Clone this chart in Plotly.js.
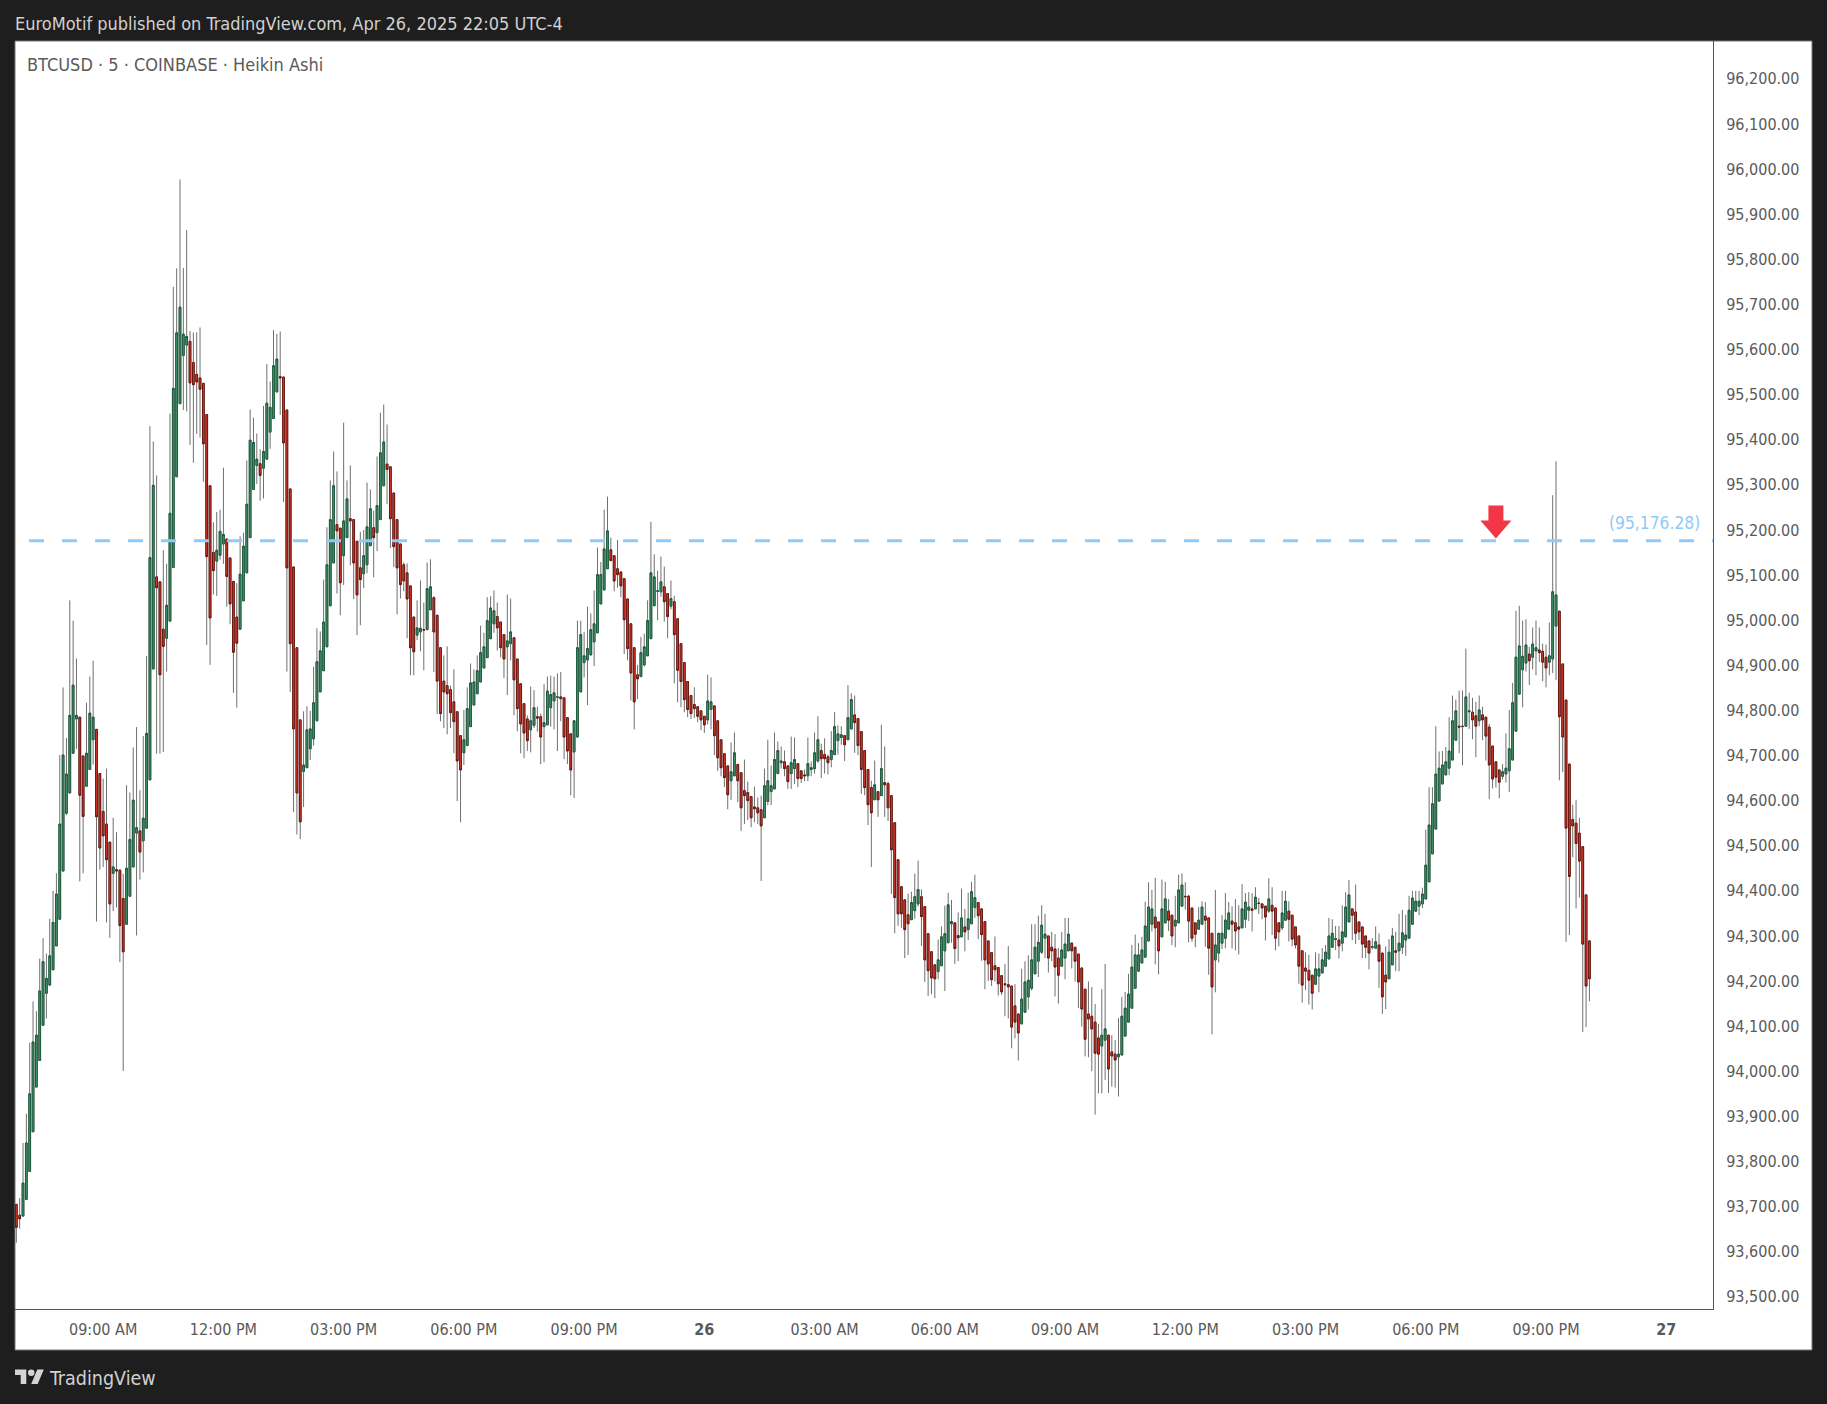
<!DOCTYPE html>
<html>
<head>
<meta charset="utf-8">
<script src="https://cdn.plot.ly/plotly-3.0.1.min.js"></script>
<style>
  html, body { margin: 0; padding: 0; background: #1e1e1e; }
  #chart { width: 1827px; height: 1404px; }
</style>
</head>
<body>
<div id="chart"></div>
<script>
// heikin ashi 5m bars, first bar is 06:50 on Apr 25
const opens = [
93705,93681,93679,93716,93778,93866,93965,94024,94102,94173,
94191,94225,94278,94337,94444,94572,94617,94705,94781,94785,
94699,94632,94669,94735,94758,94660,94576,94548,94508,94439,
94447,94446,94383,94326,94388,94453,94528,94533,94511,94539,
94646,94892,95096,95085,94980,94960,94998,95117,95318,95480,
95587,95610,95618,95571,95545,95537,95525,95456,95298,95150,
95131,95144,95169,95180,95138,95086,95007,94980,95043,95105,
95183,95290,95343,95347,95337,95357,95417,95447,95506,95540,
95539,95466,95291,95118,94939,94779,94665,94673,94715,94737,
94777,94841,94888,94941,95032,95127,95212,95204,95143,95183,
95225,95223,95175,95116,95103,95123,95165,95205,95194,95223,
95298,95346,95340,95282,95223,95169,95123,95105,95076,95007,
94967,94974,94979,94979,95023,95050,95011,94939,94865,94855,
94846,94819,94797,94744,94706,94722,94764,94812,94837,94863,
94894,94917,94959,94992,95008,94996,94968,94941,94948,94961,
94914,94859,94815,94781,94757,94767,94786,94786,94764,94768,
94806,94821,94829,94830,94828,94784,94748,94708,94741,94841,
94906,94912,94923,94952,94972,95036,95067,95114,95156,95143,
95114,95107,95092,95047,94992,94939,94879,94875,94901,94921,
94959,95032,95064,95063,95074,95059,95031,95041,95003,94948,
94906,94864,94833,94813,94808,94799,94787,94779,94802,94810,
94777,94735,94704,94677,94644,94655,94680,94662,94622,94618,
94609,94586,94584,94580,94562,94598,94620,94626,94660,94684,
94686,94677,94660,94671,94682,94666,94657,94655,94669,94671,
94688,94711,94702,94697,94691,94702,94733,94740,94744,94735,
94759,94790,94782,94753,94711,94669,94629,94602,94620,94611,
94640,94638,94611,94551,94469,94409,94380,94347,94336,94356,
94371,94387,94365,94305,94265,94236,94221,94234,94267,94285,
94327,94329,94301,94298,94320,94314,94327,94363,94374,94360,
94332,94289,94263,94234,94230,94212,94194,94192,94189,94145,
94127,94105,94131,94165,94184,94216,94244,94264,94295,94300,
94275,94271,94251,94233,94251,94267,94284,94275,94260,94229,
94182,94127,94122,94109,94074,94056,94069,94080,94043,94038,
94032,94036,94078,94109,94140,94184,94222,94240,94253,94289,
94326,94342,94331,94298,94329,94355,94346,94322,94329,94366,
94388,94388,94362,94329,94315,94326,94344,94340,94306,94247,
94262,94284,94295,94315,94333,94329,94320,94318,94337,94357,
94360,94360,94373,94371,94366,94355,94368,94362,94329,94318,
94335,94355,94346,94320,94300,94267,94229,94224,94213,94193,
94211,94218,94233,94249,94275,94292,94291,94284,94298,94331,
94360,94353,94331,94320,94300,94289,94275,94273,94280,94262,
94213,94205,94236,94267,94267,94275,94291,94295,94326,94355,
94366,94371,94382,94420,94482,94537,94599,94637,94657,94672,
94690,94734,94765,94764,94765,94797,94796,94788,94777,94790,
94785,94763,94721,94686,94668,94654,94659,94666,94690,94754,
94836,94890,94905,94925,94918,94932,94934,94931,94918,94907,
94914,94987,95020,94903,94823,94681,94558,94550,94528,94498,
94391,94289
];
const highs = [
93705,93719,93841,93906,94063,94155,94133,94250,94295,94261,
94338,94400,94439,94701,94851,94739,95044,94999,94915,94785,
94699,94817,94875,94910,94758,94660,94649,94671,94508,94562,
94530,94446,94438,94634,94618,94718,94763,94623,94743,94921,
95430,95396,95321,95085,95155,95125,95458,95739,95780,95977,
95781,95865,95641,95638,95638,95649,95525,95456,95298,95217,
95240,95245,95338,95180,95138,95086,95082,95186,95194,95354,
95467,95449,95414,95379,95475,95568,95529,95643,95635,95640,
95539,95466,95291,95118,94939,94779,94798,94809,94799,94897,
94982,94975,95090,95206,95310,95374,95330,95204,95438,95310,
95343,95223,95175,95196,95200,95305,95290,95243,95363,95460,
95478,95434,95340,95282,95223,95169,95128,95126,95076,95007,
95044,95088,95039,95128,95135,95053,95011,94939,94922,94942,
94855,94891,94797,94744,94801,94851,94904,94891,94922,94988,
94972,95051,95053,95066,95039,94996,94968,95057,95048,94961,
94914,94859,94815,94789,94853,94845,94808,94793,94858,94875,
94877,94875,94882,94885,94828,94784,94748,94777,94999,94999,
94974,95030,95015,95066,95161,95129,95245,95274,95183,95143,
95178,95107,95092,95047,94992,94939,94901,94963,94970,95044,
95218,95146,95110,95141,95119,95059,95088,95054,95003,94948,
94906,94864,94833,94851,94808,94799,94787,94879,94873,94810,
94777,94735,94704,94677,94729,94751,94682,94662,94691,94642,
94609,94631,94607,94611,94671,94735,94678,94751,94731,94720,
94711,94677,94742,94740,94682,94666,94669,94740,94687,94751,
94787,94726,94738,94702,94754,94796,94767,94765,94744,94856,
94838,94833,94782,94753,94711,94669,94644,94689,94620,94768,
94720,94642,94611,94551,94469,94411,94380,94394,94398,94438,
94467,94403,94365,94305,94265,94236,94292,94321,94367,94396,
94380,94329,94352,94405,94360,94396,94420,94436,94374,94360,
94332,94289,94263,94299,94230,94212,94238,94278,94189,94193,
94127,94227,94244,94257,94326,94326,94345,94368,94349,94300,
94309,94304,94273,94309,94340,94340,94286,94275,94260,94229,
94182,94199,94187,94149,94105,94182,94238,94080,94080,94069,
94118,94165,94176,94216,94280,94303,94284,94298,94376,94419,
94402,94429,94331,94425,94420,94382,94346,94389,94436,94439,
94419,94391,94362,94329,94364,94377,94375,94340,94306,94402,
94306,94346,94395,94375,94366,94382,94368,94415,94395,94397,
94395,94408,94384,94373,94366,94428,94408,94362,94331,94400,
94400,94377,94346,94320,94300,94267,94264,94258,94213,94264,
94261,94273,94280,94340,94337,94322,94322,94368,94397,94424,
94360,94414,94331,94320,94300,94289,94295,94321,94306,94262,
94277,94293,94318,94309,94349,94358,94347,94389,94400,94400,
94400,94407,94536,94630,94630,94765,94709,94710,94719,94785,
94833,94824,94844,94844,94937,94839,94828,94819,94833,94808,
94785,94770,94721,94686,94668,94681,94749,94801,94861,95021,
95032,94999,95002,94941,94984,94999,94984,94948,94946,94995,
95277,95352,95020,94903,94823,94681,94591,94602,94562,94498,
94391,94289
];
const lows = [
93620,93651,93679,93716,93778,93866,93965,94024,94102,94117,
94191,94225,94278,94337,94444,94568,94617,94705,94715,94421,
94439,94632,94669,94680,94332,94447,94453,94330,94296,94355,
94363,94242,94001,94326,94388,94453,94301,94425,94441,94539,
94646,94892,94704,94704,94708,94886,94998,95117,95318,95480,
95466,95463,95389,95349,95413,95405,95307,94945,94901,95057,
95054,95134,95125,95030,94991,94839,94806,94980,95043,95105,
95183,95290,95302,95265,95270,95357,95380,95447,95506,95455,
95262,94886,94841,94575,94525,94515,94586,94673,94690,94722,
94777,94841,94888,94941,95032,95127,95059,95011,95078,95183,
95122,95047,94967,94989,95071,95104,95165,95095,95153,95223,
95298,95257,95160,95118,95013,95048,95064,94960,94878,94878,
94956,94931,94889,94979,95023,94885,94792,94776,94761,94747,
94761,94705,94599,94552,94679,94722,94764,94812,94837,94863,
94894,94917,94959,94972,94933,94918,94872,94834,94911,94789,
94754,94705,94694,94710,94707,94761,94753,94681,94685,94768,
94764,94758,94710,94776,94692,94681,94612,94606,94741,94841,
94873,94812,94923,94898,94972,95036,95067,95114,95132,95064,
95072,95051,94925,94911,94822,94758,94825,94875,94897,94921,
94959,95032,95000,95052,94997,94960,95024,94860,94818,94807,
94796,94785,94781,94783,94774,94756,94750,94769,94758,94701,
94666,94654,94630,94581,94601,94655,94597,94533,94548,94557,
94541,94552,94548,94422,94562,94590,94590,94626,94660,94671,
94654,94626,94626,94637,94630,94639,94643,94643,94654,94660,
94684,94650,94660,94658,94674,94702,94702,94724,94688,94735,
94759,94706,94701,94615,94612,94546,94453,94602,94564,94611,
94564,94555,94393,94306,94322,94318,94251,94258,94336,94338,
94365,94278,94198,94167,94171,94162,94204,94234,94178,94285,
94285,94238,94244,94298,94266,94291,94327,94340,94293,94245,
94182,94200,94189,94199,94168,94169,94122,94117,94051,94073,
94024,94105,94131,94137,94179,94216,94209,94260,94251,94219,
94244,94166,94150,94233,94204,94267,94228,94199,94140,94099,
94033,94031,94000,93904,93951,93951,93981,93952,93966,93964,
93944,94036,94078,94109,94140,94184,94222,94240,94253,94289,
94310,94237,94215,94298,94329,94311,94280,94275,94329,94366,
94358,94286,94287,94275,94315,94326,94276,94214,94082,94175,
94241,94271,94273,94315,94272,94268,94259,94318,94318,94333,
94310,94360,94349,94337,94290,94351,94302,94268,94277,94313,
94335,94288,94277,94272,94194,94152,94180,94148,94137,94193,
94175,94218,94233,94249,94275,94269,94250,94266,94298,94331,
94291,94282,94291,94251,94251,94226,94270,94273,94185,94127,
94138,94205,94236,94222,94222,94260,94256,94295,94326,94355,
94346,94362,94382,94420,94482,94537,94599,94637,94657,94657,
94690,94734,94705,94678,94765,94759,94736,94696,94765,94734,
94689,94603,94627,94629,94605,94647,94640,94619,94690,94754,
94836,94807,94886,94856,94891,94878,94907,94865,94851,94878,
94883,94867,94645,94663,94287,94302,94475,94361,94385,94087,
94098,94155
];
const closes = [
93654,93673,93752,93841,93950,94065,94080,94178,94243,94206,
94256,94330,94393,94548,94701,94659,94789,94856,94789,94612,
94565,94705,94794,94785,94564,94495,94522,94469,94371,94453,
94444,94323,94265,94450,94514,94601,94540,94486,94561,94749,
95139,95299,95072,94879,94942,95033,95237,95514,95637,95694,
95634,95629,95526,95522,95528,95512,95391,95141,95005,95110,
95155,95197,95190,95097,95036,94929,94949,95102,95164,95257,
95399,95394,95357,95321,95374,95481,95472,95564,95579,95537,
95393,95116,94948,94759,94617,94553,94679,94757,94759,94817,
94908,94932,94996,95123,95223,95298,95198,95083,95220,95269,
95220,95127,95056,95090,95143,95207,95247,95183,95254,95371,
95395,95334,95225,95163,95116,95079,95087,95047,94939,94930,
94983,94982,94978,95070,95074,94974,94865,94793,94841,94837,
94795,94775,94688,94668,94735,94804,94861,94863,94888,94928,
94941,94999,95027,95021,94983,94939,94914,94954,94974,94868,
94804,94770,94750,94733,94777,94806,94783,94741,94773,94843,
94835,94839,94830,94826,94741,94710,94668,94777,94939,94968,
94921,94937,94979,94992,95101,95101,95158,95198,95132,95087,
95101,95076,95001,94937,94883,94819,94870,94928,94941,94999,
95105,95096,95065,95085,95041,95008,95048,94968,94889,94864,
94824,94802,94793,94804,94787,94779,94768,94821,94819,94744,
94695,94673,94651,94613,94664,94706,94644,94584,94611,94600,
94562,94582,94573,94544,94633,94644,94633,94691,94711,94688,
94671,94642,94684,94691,94649,94649,94655,94682,94673,94706,
94735,94693,94693,94684,94711,94764,94748,94746,94724,94784,
94824,94773,94722,94669,94629,94591,94573,94635,94602,94671,
94635,94584,94491,94385,94349,94349,94314,94327,94374,94387,
94403,94343,94247,94223,94207,94205,94247,94298,94305,94369,
94332,94272,94296,94340,94309,94338,94398,94385,94345,94303,
94247,94238,94203,94225,94194,94176,94192,94187,94098,94109,
94085,94160,94198,94202,94247,94275,94286,94324,94304,94251,
94267,94231,94213,94269,94282,94304,94267,94244,94198,94138,
94071,94116,94094,94040,94038,94080,94094,94005,94034,94025,
94038,94122,94140,94171,94231,94258,94258,94269,94322,94364,
94360,94318,94267,94360,94382,94335,94300,94335,94402,94413,
94387,94333,94295,94304,94335,94364,94335,94273,94187,94280,
94306,94306,94335,94351,94326,94311,94315,94360,94375,94364,
94357,94386,94372,94362,94342,94382,94355,94295,94309,94351,
94377,94337,94293,94280,94233,94191,94222,94202,94173,94227,
94227,94247,94264,94300,94306,94294,94278,94309,94364,94391,
94346,94306,94309,94282,94275,94262,94276,94287,94244,94165,
94198,94264,94300,94264,94284,94307,94302,94357,94384,94377,
94377,94393,94457,94546,94593,94659,94672,94679,94686,94710,
94777,94799,94763,94765,94830,94799,94779,94765,94801,94779,
94743,94679,94648,94652,94641,94664,94672,94715,94817,94918,
94943,94920,94945,94910,94947,94939,94928,94907,94894,94921,
95063,95056,94786,94741,94539,94432,94544,94505,94466,94282,
94189,94205
];
const tickTimes = [
  '2025-04-25 09:00', '2025-04-25 12:00', '2025-04-25 15:00', '2025-04-25 18:00', '2025-04-25 21:00',
  '2025-04-26 00:00', '2025-04-26 03:00', '2025-04-26 06:00', '2025-04-26 09:00', '2025-04-26 12:00',
  '2025-04-26 15:00', '2025-04-26 18:00', '2025-04-26 21:00', '2025-04-27 00:00'
];
const tickLabels = [
  '09:00 AM', '12:00 PM', '03:00 PM', '06:00 PM', '09:00 PM',
  '<b>26</b>', '03:00 AM', '06:00 AM', '09:00 AM', '12:00 PM',
  '03:00 PM', '06:00 PM', '09:00 PM', '<b>27</b>'
];
const levelPrice = 95176.28;
const levelText = '(95,176.28)';
const arrowBar = 443;
const arrowPrice = 95181;

const FONT = '"DejaVu Sans Condensed", "DejaVu Sans", sans-serif';
const W = 1827, H = 1404;
const plot = { l: 15, r: 1713, t: 41, b: 1309 };
const textColor = '#5a5a5a';

const firstBar = Date.UTC(2025, 3, 25, 6, 50);
const barTime = (i) => new Date(firstBar + i * 300000).toISOString().slice(0, 19).replace('T', ' ');
const times = opens.map((_, i) => barTime(i));

// page px -> paper fraction, for the frame and the text around the plot
const paperX = (px) => (px - plot.l) / (plot.r - plot.l);
const paperY = (py) => (plot.b - py) / (plot.b - plot.t);

const wickColor = '#6f6f6f';
const flat = (c) => ({ line: { color: c, width: 1 }, fillcolor: c });

const traces = [
  {
    type: 'scatter',
    mode: 'lines',
    x: [barTime(3.8), barTime(508)],
    y: [levelPrice, levelPrice],
    line: { color: '#90caf9', width: 3, dash: '15px,18px' },
    hoverinfo: 'skip',
  },
  // wicks first, the bodies get their own trace so the outline can differ from the wick colour
  {
    type: 'candlestick',
    x: times,
    open: opens,
    high: highs,
    low: lows,
    close: closes,
    increasing: flat(wickColor),
    decreasing: flat(wickColor),
    hoverinfo: 'skip',
  },
  {
    type: 'candlestick',
    x: times,
    open: opens,
    high: opens.map((o, i) => Math.max(o, closes[i])),
    low: opens.map((o, i) => Math.min(o, closes[i])),
    close: closes,
    increasing: { line: { color: '#1e5c3f', width: 1 }, fillcolor: '#459a6e' },
    decreasing: { line: { color: '#6e1710', width: 1 }, fillcolor: '#e23c2c' },
  },
];

const label = (text, px, py, size, color, anchor) => ({
  text,
  xref: 'paper',
  yref: 'paper',
  x: paperX(px),
  y: paperY(py),
  xanchor: anchor || 'left',
  yanchor: 'middle',
  showarrow: false,
  font: { family: FONT, size, color },
});

const layout = {
  width: W,
  height: H,
  margin: { l: plot.l, r: W - plot.r, t: plot.t, b: H - plot.b, pad: 0 },
  paper_bgcolor: '#1e1e1e',
  plot_bgcolor: '#ffffff',
  showlegend: false,
  boxgap: 0.25,
  font: { family: FONT, size: 16, color: textColor },
  xaxis: {
    type: 'date',
    range: [barTime(-0.4), barTime(508)],
    rangeslider: { visible: false },
    tickmode: 'array',
    tickvals: tickTimes,
    ticktext: tickLabels,
    ticks: 'outside',
    ticklen: 6,
    tickcolor: 'rgba(0,0,0,0)',
    showgrid: false,
    showline: true,
    linecolor: '#555555',
    linewidth: 1,
    zeroline: false,
    tickfont: { family: FONT, size: 16, color: textColor },
  },
  yaxis: {
    side: 'right',
    range: [93473, 96284],
    tick0: 93500,
    dtick: 100,
    tickformat: ',.2f',
    ticks: 'outside',
    ticklen: 9,
    tickcolor: 'rgba(0,0,0,0)',
    showgrid: false,
    showline: true,
    linecolor: '#555555',
    linewidth: 1,
    zeroline: false,
    tickfont: { family: FONT, size: 16, color: textColor },
  },
  shapes: [
    // white panel behind the plot and both axes
    {
      type: 'rect',
      layer: 'below',
      xref: 'paper',
      yref: 'paper',
      x0: paperX(15),
      x1: paperX(1812),
      y0: paperY(1350),
      y1: paperY(41),
      fillcolor: '#ffffff',
      line: { color: '#777777', width: 1 },
    },
    // red arrow, tip on the level line
    {
      type: 'path',
      xref: 'x',
      yref: 'y',
      xsizemode: 'pixel',
      ysizemode: 'pixel',
      xanchor: barTime(arrowBar),
      yanchor: arrowPrice,
      path: 'M0,0 L-15.5,18 L-7.5,18 L-7.5,33 L7.5,33 L7.5,18 L15.5,18 Z',
      fillcolor: '#f23645',
      line: { width: 0 },
    },
    // TradingView mark
    {
      type: 'path',
      xref: 'paper',
      yref: 'paper',
      xsizemode: 'pixel',
      ysizemode: 'pixel',
      xanchor: paperX(15),
      yanchor: paperY(1384),
      path: 'M11.3,0 L5.7,0 L5.7,8.9 L0,8.9 L0,14.6 L11.3,14.6 Z M22.7,0 L16.2,0 L22.3,14.6 L28.8,14.6 Z',
      fillcolor: '#d4d4d4',
      line: { width: 0 },
    },
    {
      type: 'circle',
      xref: 'paper',
      yref: 'paper',
      xsizemode: 'pixel',
      ysizemode: 'pixel',
      xanchor: paperX(15),
      yanchor: paperY(1384),
      x0: 13,
      x1: 19.5,
      y0: 8,
      y1: 14.6,
      fillcolor: '#d4d4d4',
      line: { width: 0 },
    },
  ],
  annotations: [
    label('EuroMotif published on TradingView.com, Apr 26, 2025 22:05 UTC-4', 13, 23, 18, '#d1d1d1'),
    label('BTCUSD · 5 · COINBASE · Heikin Ashi', 25, 64, 18, textColor),
    label('TradingView', 47, 1378, 19.5, '#d1d1d1'),
    {
      text: levelText,
      xref: 'paper',
      yref: 'y',
      x: paperX(1702),
      y: levelPrice,
      yshift: 18,
      xanchor: 'right',
      yanchor: 'middle',
      showarrow: false,
      font: { family: FONT, size: 17.3, color: '#90caf9' },
    },
  ],
};

Plotly.newPlot('chart', traces, layout, { displayModeBar: false, staticPlot: true });
</script>
</body>
</html>
